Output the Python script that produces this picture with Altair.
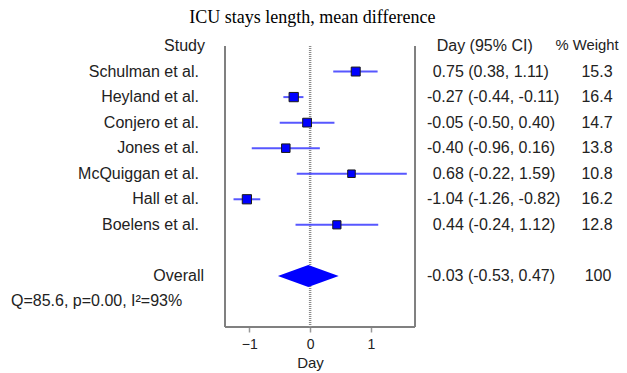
import altair as alt
import pandas as pd

# ---- data ----
studies = ["Schulman et al.", "Heyland et al.", "Conjero et al.", "Jones et al.",
           "McQuiggan et al.", "Hall et al.", "Boelens et al."]
est = [0.75, -0.27, -0.05, -0.40, 0.68, -1.04, 0.44]
lo = [0.38, -0.44, -0.50, -0.96, -0.22, -1.26, -0.24]
hi = [1.11, -0.11, 0.40, 0.16, 1.59, -0.82, 1.12]
weight = [15.3, 16.4, 14.7, 13.8, 10.8, 16.2, 12.8]

overall_est = -0.03
overall_lo = -0.53
overall_hi = 0.47
overall_weight = 100
heterogeneity = "Q=85.6, p=0.00, I\u00b2=93%"
title_text = "ICU stays length, mean difference"
tick_values = [-1, 0, 1]

# ---- layout constants ----
X_LEFT, X_RIGHT = -1.4, 1.725          # plot box limits (data units)
X_DOM = [-4.969, 5.080]                # full canvas in data units
Y_DOM = [-1.4876, 11]                  # rows, top to bottom
ROW_OVERALL = 9
ROW_BOTTOM = 11
FONT = "Liberation Sans"
FS = 16
TXT = "#222222"

rows = list(range(1, len(studies) + 1))
df = pd.DataFrame({
    "study": studies, "est": est, "lo": lo, "hi": hi, "weight": weight, "row": rows,
})
df["ci"] = [f"{e:.2f} ({l:.2f}, {h:.2f})" for e, l, h in zip(est, lo, hi)]
df["wtxt"] = [f"{w:.1f}" for w in weight]

ov = pd.DataFrame({
    "label": ["Overall"], "row": [ROW_OVERALL], "est": [overall_est],
    "ci": [f"{overall_est:.2f} ({overall_lo:.2f}, {overall_hi:.2f})"],
    "wtxt": [str(overall_weight)],
})
half_h = 0.43
diamond = pd.DataFrame({
    "x": [overall_lo, overall_est, overall_hi],
    "y": [ROW_OVERALL, ROW_OVERALL - half_h, ROW_OVERALL],
    "y2": [ROW_OVERALL, ROW_OVERALL + half_h, ROW_OVERALL],
})

xs = alt.Scale(domain=X_DOM, nice=False, zero=False)
ys = alt.Scale(domain=Y_DOM, reverse=True, nice=False, zero=False)

xaxis = alt.Axis(values=tick_values, domain=False, grid=False, tickSize=5, tickWidth=1.5,
                 tickColor="#999999", labelFont=FONT, labelFontSize=14, labelColor=TXT,
                 labelPadding=5, title="Day", titleFont=FONT, titleFontSize=15,
                 titleFontWeight="normal", titleColor=TXT, titleX=302, titleY=28,
                 titleBaseline="top")
X = alt.X("x:Q", scale=xs, axis=xaxis)

# box lines
vlines = pd.DataFrame({"x": [X_LEFT, X_RIGHT], "y": [0, 0], "y2": [ROW_BOTTOM, ROW_BOTTOM]})
box_v = alt.Chart(vlines).mark_rule(color="#808080", strokeWidth=2).encode(
    x=X, y=alt.Y("y:Q", scale=ys, axis=None), y2="y2:Q")
box_b = alt.Chart(pd.DataFrame({"x": [X_LEFT], "x2": [X_RIGHT], "y": [ROW_BOTTOM]})).mark_rule(
    color="#808080", strokeWidth=2).encode(x=X, x2="x2:Q", y=alt.Y("y:Q", scale=ys, axis=None))
zero = alt.Chart(pd.DataFrame({"x": [0], "y": [0], "y2": [ROW_BOTTOM]})).mark_rule(
    color="#8c8c8c", strokeWidth=2.5, strokeDash=[1, 1]).encode(
    x=X, y=alt.Y("y:Q", scale=ys, axis=None), y2="y2:Q")

# CIs and markers
ci = alt.Chart(df).mark_rule(color="#3a3aff", strokeWidth=2, opacity=0.85).encode(
    x=alt.X("lo:Q", scale=xs, axis=xaxis), x2="hi:Q", y=alt.Y("row:Q", scale=ys, axis=None))
pts = alt.Chart(df).mark_point(shape="square", filled=True, color="#0000ff", stroke="#1a1a1a",
                               strokeWidth=1, opacity=1).encode(
    x=alt.X("est:Q", scale=xs, axis=xaxis), y=alt.Y("row:Q", scale=ys, axis=None),
    size=alt.Size("weight:Q", scale=alt.Scale(domain=[0, 20], range=[0, 105]), legend=None))
dia = alt.Chart(diamond).mark_area(color="#0000ff", orient="vertical", opacity=1).encode(
    x=X, y=alt.Y("y:Q", scale=ys, axis=None), y2="y2:Q")

Yrow = alt.Y("row:Q", scale=ys, axis=None)
def txt(data, field, xpx, align, **kw):
    return alt.Chart(data).mark_text(align=align, baseline="middle", font=FONT, fontSize=FS,
                                     color=TXT, **kw).encode(
        x=alt.value(xpx), y=Yrow, text=f"{field}:N")

lab = txt(df, "study", 191, "right")
ci_pos = txt(df, "ci", 424.7, "left").transform_filter("datum.est >= 0")
ci_neg = txt(df, "ci", 419, "left").transform_filter("datum.est < 0")
wt = txt(df, "wtxt", 589, "center")
ov_lab = txt(ov, "label", 196, "right")
ov_ci = txt(ov, "ci", 419, "left")
ov_wt = txt(ov, "wtxt", 590, "center")

hdr = pd.DataFrame({"row": [0, 0, 0, 10.0, -1.096],
                    "t": ["Study", "Day (95% CI)", "% Weight", heterogeneity, title_text]})
def hdr_txt(i, xpx, align, font=FONT, size=FS, color=TXT):
    return alt.Chart(hdr.iloc[[i]]).mark_text(align=align, baseline="middle", font=font,
                                             fontSize=size, color=color).encode(
        x=alt.value(xpx), y=Yrow, text="t:N")

h_study = hdr_txt(0, 197, "right")
h_ci = hdr_txt(1, 428.7, "left")
h_wt = hdr_txt(2, 610.5, "right", size=14.8)
h_q = hdr_txt(3, 3, "left")
h_title = hdr_txt(4, 304.4, "center", font="Liberation Serif", size=18, color="#000000")

chart = alt.layer(
    box_v, box_b, zero, ci, pts, dia, lab, ci_pos, ci_neg, wt, ov_lab, ov_ci, ov_wt,
    h_study, h_ci, h_wt, h_q, h_title
).properties(
    width=611, height=319,
    autosize=alt.AutoSizeParams(type="none"),
    padding={"left": 0, "right": 0, "top": 0, "bottom": 46},
).configure_view(stroke=None)

chart.save("out.html", embed_options={"renderer": "svg", "actions": False})
